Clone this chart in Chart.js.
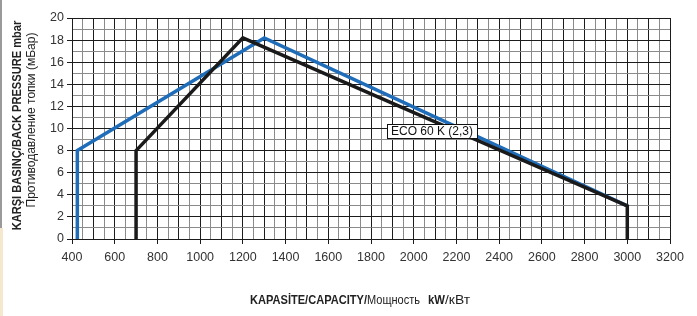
<!DOCTYPE html>
<html>
<head>
<meta charset="utf-8">
<script src="https://cdn.jsdelivr.net/npm/chart.js@4/dist/chart.umd.min.js"></script>
<style>
  html, body { margin:0; padding:0; background:#fff; }
  #wrap { position:relative; width:697px; height:316px; overflow:hidden; }
  #c { position:absolute; left:0; top:0; }
  .ytitle { position:absolute; white-space:nowrap; transform-origin:center center; color:#222; }
  #yt1 { font: bold 13px 'Liberation Sans', Arial, sans-serif; }
  #yt2 { font: 12.5px 'Liberation Sans', Arial, sans-serif; }
  #xt { position:absolute; white-space:nowrap; color:#222; font: 12px 'Liberation Sans', Arial, sans-serif; }
  #xt span { display:inline-block; transform-origin:left center; }
  #xt .b { font: bold 12.5px 'Liberation Sans', Arial, sans-serif; }
  #stripGray { position:absolute; left:0; top:0; width:2px; height:228px; background:#9a9a9a; }
  #stripBeige { position:absolute; left:0; top:228px; width:3px; height:88px; background:#f6e8cf; }
</style>
</head>
<body>
<div id="wrap">
  <canvas id="c" width="697" height="316"></canvas>
  <div id="stripGray"></div>
  <div id="stripBeige"></div>
  <div id="yt1" class="ytitle">KARŞI BASINÇ/BACK PRESSURE mbar</div>
  <div id="yt2" class="ytitle">Противодавление топки (мБар)</div>
  <div id="xt"><span class="b" id="x1">KAPASİTE/CAPACITY/</span><span id="x2">Мощность</span><span id="x3" class="b">kW</span><span id="x4">/кВт</span></div>
</div>
<script>
// ---- data ----
const blueX = [425, 425, 1300, 3000];
const blueY = [0, 8, 18.2, 3];
const blackX = [700, 700, 1200, 3000, 3000];
const blackY = [0, 8, 18.2, 3, 0];
const xMin = 400, xMax = 3200, xStep = 50, xLabelStep = 200;
const yMin = 0, yMax = 20, yStep = 1, yLabelStep = 2;
const labelText = 'ECO 60 K (2,3)';
const labelX = 1875, labelY = 10.45;

function pts(xs, ys) { return xs.map((x, i) => ({ x: x, y: ys[i] })); }

// ---- titles (HTML text, fitted to the reference's lengths) ----
function placeRot(id, cx, cy, len) {
  const el = document.getElementById(id);
  const w = el.offsetWidth, h = el.offsetHeight;
  const k = len / w;
  el.style.left = (cx - w / 2) + 'px';
  el.style.top = (cy - h / 2) + 'px';
  el.style.transform = 'rotate(-90deg) scaleX(' + k + ')';
}
placeRot('yt1', 16.5, 125, 210);
placeRot('yt2', 30.5, 120, 175);

function fitSpan(id, target, gapAfter) {
  const el = document.getElementById(id);
  const w = el.getBoundingClientRect().width;
  el.style.transform = 'scaleX(' + (target / w) + ')';
  el.style.marginRight = (target - w + (gapAfter || 0)) + 'px';
}
fitSpan('x1', 117, 0);
fitSpan('x2', 53, 8);
fitSpan('x3', 17, 0);
fitSpan('x4', 25, 0);
(function(){
  const el = document.getElementById('xt');
  el.style.left = '250px';
  el.style.top = (300 - el.offsetHeight / 2) + 'px';
})();

const DARK = '#1c1c1c', GRAY = '#8a8a8a';
const tickFont = { family: "'Liberation Sans', Arial, sans-serif", size: 12.5 };

const labelPlugin = {
  id: 'ecoLabel',
  afterDatasetsDraw(chart) {
    const ctx = chart.ctx;
    const x = Math.round(chart.scales.x.getPixelForValue(labelX)) + 0.5;
    const y = Math.round(chart.scales.y.getPixelForValue(labelY)) + 0.5;
    ctx.save();
    ctx.font = "12px 'Liberation Sans', Arial, sans-serif";
    const w = Math.round(ctx.measureText(labelText).width + 8);
    const h = 14;
    ctx.fillStyle = '#fff';
    ctx.fillRect(x, y, w, h);
    ctx.strokeStyle = '#111';
    ctx.lineWidth = 1;
    ctx.strokeRect(x, y, w, h);
    ctx.fillStyle = '#111';
    ctx.textBaseline = 'middle';
    ctx.fillText(labelText, x + 3.5, y + h / 2 + 0.5);
    ctx.restore();
  }
};

new Chart(document.getElementById('c'), {
  type: 'scatter',
  data: {
    datasets: [
      { data: pts(blueX, blueY), showLine: true, borderColor: '#1f6db8', borderWidth: 3.5,
        pointRadius: 0, tension: 0, borderJoinStyle: 'miter', borderCapStyle: 'butt', order: 2 },
      { data: pts(blackX, blackY), showLine: true, borderColor: '#1a1a1a', borderWidth: 3.5,
        pointRadius: 0, tension: 0, borderJoinStyle: 'miter', borderCapStyle: 'butt', order: 1 }
    ]
  },
  options: {
    responsive: false,
    devicePixelRatio: 1,
    animation: false,
    layout: { padding: { left: 0, top: 18, right: 27, bottom: 0 } },
    plugins: { legend: { display: false }, tooltip: { enabled: false } },
    scales: {
      x: {
        type: 'linear', min: xMin, max: xMax,
        afterFit(s) { s.height = 77; },
        border: { color: DARK, width: 1 },
        grid: {
          color: c => (c.tick && c.tick.value % 100 === 0) ? DARK : GRAY,
          tickColor: c => (c.tick && c.tick.value % xLabelStep === 0) ? DARK : 'rgba(0,0,0,0)',
          tickLength: 5, lineWidth: 1
        },
        ticks: {
          stepSize: xStep, maxTicksLimit: 200, autoSkip: false, maxRotation: 0,
          color: '#333', font: tickFont, padding: 6,
          callback: v => (v % xLabelStep === 0) ? String(v) : ''
        }
      },
      y: {
        type: 'linear', min: yMin, max: yMax,
        afterFit(s) { s.width = 72; },
        border: { color: DARK, width: 1 },
        grid: {
          color: c => (c.tick && c.tick.value % 2 === 0) ? DARK : GRAY,
          tickColor: c => (c.tick && c.tick.value % yLabelStep === 0) ? DARK : 'rgba(0,0,0,0)',
          tickLength: 5, lineWidth: 1
        },
        ticks: {
          stepSize: yStep, maxTicksLimit: 100, autoSkip: false,
          color: '#333', font: tickFont, padding: 3,
          callback: v => (v % yLabelStep === 0) ? String(v) : ''
        }
      }
    }
  },
  plugins: [labelPlugin]
});
</script>
</body>
</html>
